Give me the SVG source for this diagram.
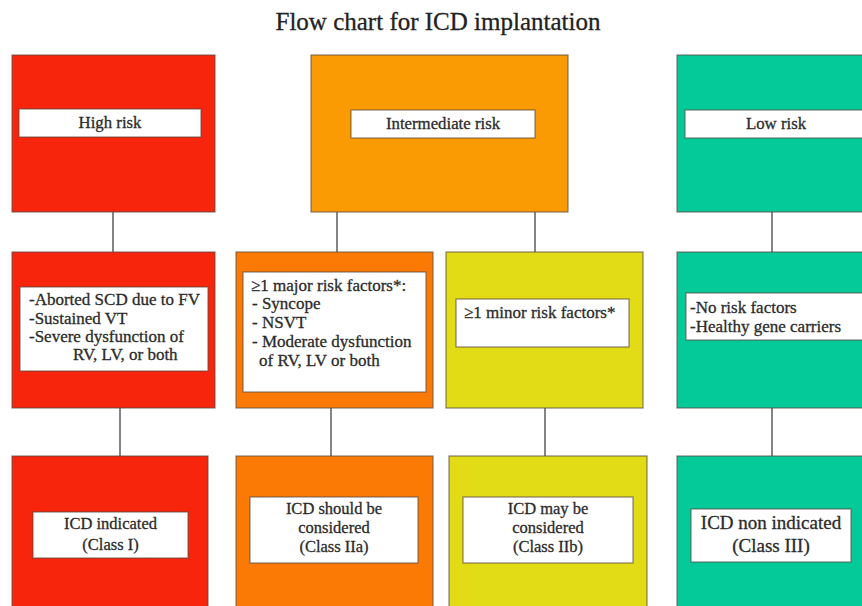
<svg xmlns="http://www.w3.org/2000/svg" width="862" height="606" viewBox="0 0 862 606">
<style>
  text { font-family: "Liberation Serif", "Times New Roman", serif; fill: #2b2b2b; stroke: #2b2b2b; stroke-width: 0.3; }
  .title { font-size: 25px; text-anchor: middle; fill: #222; stroke: #222; }
  .hdr { font-size: 16.8px; text-anchor: middle; }
  .mid { font-size: 17px; }
  .bot { font-size: 16.5px; text-anchor: middle; }
  .big { font-size: 19px; text-anchor: middle; }
  .box { stroke: #5a4a40; stroke-width: 1.2; stroke-opacity: 0.7; }
  .lbl { fill: #ffffff; stroke: #5a4a40; stroke-width: 1.2; stroke-opacity: 0.7; }
  .red { fill: #f6250c; }
  .orange1 { fill: #fb9b03; }
  .orange2 { fill: #fb7a05; }
  .yellow { fill: #e2dc17; }
  .green { fill: #04c999; }
  .conn line { stroke: #858585; stroke-width: 2; }
</style>
<rect width="862" height="606" fill="#ffffff"/>
<text class="title" x="438" y="30">Flow chart for ICD implantation</text>

<g class="conn">
  <line x1="113" y1="212" x2="113" y2="252"/>
  <line x1="337" y1="212" x2="337" y2="252"/>
  <line x1="535" y1="212" x2="535" y2="252"/>
  <line x1="772" y1="212" x2="772" y2="252"/>
  <line x1="120" y1="408" x2="120" y2="456"/>
  <line x1="331" y1="408" x2="331" y2="456"/>
  <line x1="545" y1="408" x2="545" y2="456"/>
  <line x1="772" y1="408" x2="772" y2="456"/>
</g>

<g id="high-risk">
  <rect class="box red" x="12" y="55" width="203" height="157"/>
  <rect class="lbl" x="19" y="109" width="182" height="28"/>
  <text class="hdr" x="110" y="128">High risk</text>
</g>
<g id="intermediate-risk">
  <rect class="box orange1" x="311" y="55" width="257" height="157"/>
  <rect class="lbl" x="351" y="110" width="184" height="28"/>
  <text class="hdr" x="443" y="129">Intermediate risk</text>
</g>
<g id="low-risk">
  <rect class="box green" x="677" y="55" width="200" height="157"/>
  <rect class="lbl" x="685" y="110" width="190" height="28"/>
  <text class="hdr" x="776" y="129">Low risk</text>
</g>

<g id="high-criteria">
  <rect class="box red" x="12" y="252" width="203" height="156"/>
  <rect class="lbl" x="20" y="287" width="188" height="84"/>
  <text class="mid" x="29" y="305">-Aborted SCD due to FV</text>
  <text class="mid" x="29" y="324">-Sustained VT</text>
  <text class="mid" x="29" y="342">-Severe dysfunction of</text>
  <text class="mid" x="73" y="360">RV, LV, or both</text>
</g>
<g id="major-criteria">
  <rect class="box orange2" x="236" y="252" width="197" height="156"/>
  <rect class="lbl" x="243" y="272" width="183" height="120"/>
  <text class="mid" x="251" y="291">≥1 major risk factors*:</text>
  <text class="mid" x="252" y="309">- Syncope</text>
  <text class="mid" x="252" y="328">- NSVT</text>
  <text class="mid" x="252" y="347">- Moderate dysfunction</text>
  <text class="mid" x="259" y="366">of RV, LV or both</text>
</g>
<g id="minor-criteria">
  <rect class="box yellow" x="446" y="252" width="197" height="156"/>
  <rect class="lbl" x="456" y="299" width="173" height="48"/>
  <text class="mid" x="464" y="318">≥1 minor risk factors*</text>
</g>
<g id="low-criteria">
  <rect class="box green" x="677" y="252" width="200" height="156"/>
  <rect class="lbl" x="686" y="293" width="190" height="47"/>
  <text class="mid" x="690" y="313">-No risk factors</text>
  <text class="mid" x="690" y="332">-Healthy gene carriers</text>
</g>

<g id="class-i">
  <rect class="box red" x="12" y="456" width="196" height="160"/>
  <rect class="lbl" x="33" y="512" width="155" height="46"/>
  <text class="bot" x="110.5" y="529">ICD indicated</text>
  <text class="bot" x="110.5" y="550">(Class I)</text>
</g>
<g id="class-iia">
  <rect class="box orange2" x="236" y="456" width="197" height="160"/>
  <rect class="lbl" x="250" y="497" width="168" height="66"/>
  <text class="bot" x="334" y="514">ICD should be</text>
  <text class="bot" x="334" y="533">considered</text>
  <text class="bot" x="334" y="552">(Class IIa)</text>
</g>
<g id="class-iib">
  <rect class="box yellow" x="449" y="456" width="198" height="160"/>
  <rect class="lbl" x="463" y="497" width="170" height="66"/>
  <text class="bot" x="548" y="514">ICD may be</text>
  <text class="bot" x="548" y="533">considered</text>
  <text class="bot" x="548" y="552">(Class IIb)</text>
</g>
<g id="class-iii">
  <rect class="box green" x="677" y="456" width="200" height="160"/>
  <rect class="lbl" x="691" y="509" width="160" height="53"/>
  <text class="big" x="771" y="529">ICD non indicated</text>
  <text class="big" x="771" y="552">(Class III)</text>
</g>
</svg>
